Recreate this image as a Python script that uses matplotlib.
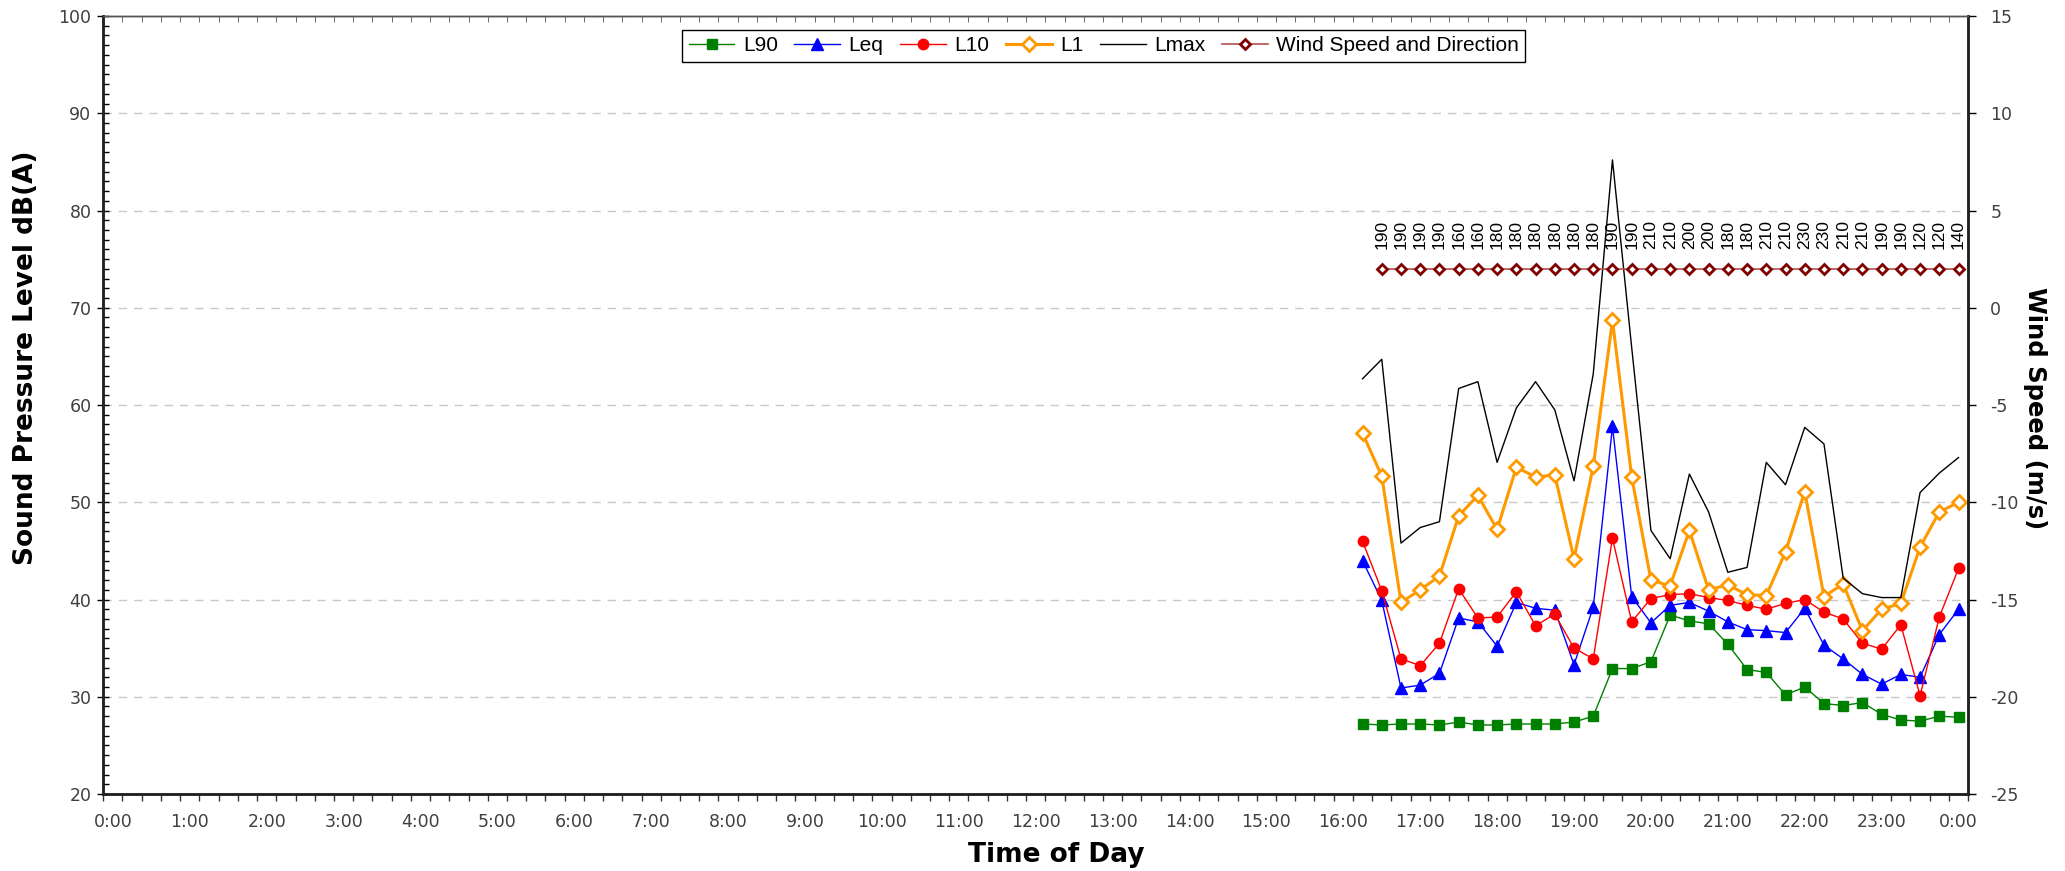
import matplotlib
matplotlib.use('Agg')
import matplotlib.pyplot as plt
from matplotlib.ticker import MultipleLocator, FixedLocator, NullFormatter

### Data
# 15 minute intervals (end time of each interval)
times = ['16:15', '16:30', '16:45', '17:00', '17:15', '17:30', '17:45', '18:00',
         '18:15', '18:30', '18:45', '19:00', '19:15', '19:30', '19:45', '20:00',
         '20:15', '20:30', '20:45', '21:00', '21:15', '21:30', '21:45', '22:00',
         '22:15', '22:30', '22:45', '23:00', '23:15', '23:30', '23:45', '24:00']

L90 = [27.2, 27.1, 27.2, 27.2, 27.1, 27.4, 27.1, 27.1, 27.2, 27.2, 27.2, 27.4, 28.0, 32.9, 32.9, 33.6,
       38.4, 37.8, 37.5, 35.4, 32.8, 32.5, 30.2, 31.0, 29.3, 29.1, 29.4, 28.2, 27.6, 27.5, 28.0, 27.9]
Leq = [44.0, 39.9, 30.9, 31.2, 32.4, 38.1, 37.7, 35.2, 39.7, 39.1, 38.9, 33.3, 39.2, 57.8, 40.3, 37.6,
       39.4, 39.7, 38.8, 37.7, 36.9, 36.8, 36.6, 39.1, 35.3, 33.9, 32.3, 31.3, 32.3, 32.0, 36.4, 39.0]
L10 = [46.0, 40.9, 33.9, 33.2, 35.5, 41.1, 38.1, 38.2, 40.8, 37.3, 38.5, 35.0, 33.9, 46.3, 37.7, 40.1,
       40.5, 40.6, 40.2, 39.9, 39.4, 39.0, 39.6, 40.0, 38.7, 38.0, 35.5, 34.9, 37.4, 30.1, 38.2, 43.2]
L1 = [57.1, 52.7, 39.7, 41.0, 42.4, 48.6, 50.7, 47.2, 53.6, 52.6, 52.8, 44.2, 53.7, 68.7, 52.6, 42.0,
      41.4, 47.1, 41.0, 41.5, 40.5, 40.4, 44.9, 51.1, 40.3, 41.6, 36.8, 39.0, 39.6, 45.4, 49.0, 50.0]
Lmax = [62.7, 64.7, 45.8, 47.4, 48.0, 61.7, 62.4, 54.1, 59.7, 62.4, 59.5, 52.2, 63.2, 85.2, 65.9, 47.1,
        44.2, 52.9, 49.0, 42.8, 43.3, 54.1, 51.8, 57.7, 56.0, 42.2, 40.6, 40.2, 40.2, 51.0, 53.0, 54.6]

# wind data starts one interval later
wind_times = times[1:]
wind_speed = [2.0] * 31
wind_dir = [190, 190, 190, 190, 160, 160, 180, 180, 180, 180, 180, 180, 190, 190, 210, 210,
            200, 200, 180, 180, 210, 210, 230, 230, 210, 210, 190, 190, 120, 120, 140]

hour_labels = ['%d:00' % (h % 24) for h in range(25)]

### Helpers
# time string -> category slot (one slot per 15 minutes)
def slot(t):
    h, m = t.split(':')
    return int(h) * 4 + int(m) // 15

x = [slot(t) for t in times]
xw = [slot(t) for t in wind_times]

### Graph
plt.rcParams['font.family'] = ['Liberation Sans', 'DejaVu Sans']
plt.rcParams['axes.unicode_minus'] = False
fig = plt.figure(figsize=(20.65, 8.71), dpi=100)
ax = fig.add_axes([0.05, 0.0884, 0.9031, 0.8932])
ax2 = ax.twinx()

tickcol = '#404040'

ax.set_xlim(-0.5, 96.5)
ax.set_ylim(20, 100)
ax2.set_ylim(-25, 15)

ax.yaxis.grid(True, linestyle=(0, (6, 5)), color='#c8c8c8', linewidth=1)
ax.set_axisbelow(True)

# noise series
ax.plot(x, L90, color='#008000', marker='s', markersize=6.5, linewidth=1, label='L90')
ax.plot(x, Leq, color='#0000ff', marker='^', markersize=8, linewidth=1, label='Leq')
ax.plot(x, L10, color='#ff0000', marker='o', markersize=7.5, linewidth=1, label='L10')
ax.plot(x, L1, color='#ff9900', marker='D', markersize=7.5, markerfacecolor='white',
        markeredgewidth=2, linewidth=2.2, label='L1')
ax.plot(x, Lmax, color='black', linewidth=1, label='Lmax')

# wind speed and direction
ax2.plot(xw, wind_speed, color='#b05050', linewidth=1.2, marker='D', markersize=5.5,
         markerfacecolor='white', markeredgecolor='#800000', markeredgewidth=2,
         label='Wind Speed and Direction')
for xi, ws, wd in zip(xw, wind_speed, wind_dir):
    ax2.annotate(str(wd), (xi, ws), xytext=(0, 14), textcoords='offset points',
                 rotation=90, ha='center', va='bottom', fontsize=12.5, color='black')

# x axis - category slots, hour labels in slot centres
ax.xaxis.set_major_locator(FixedLocator([slot('%d:00' % h) for h in range(25)]))
ax.set_xticklabels(hour_labels)
ax.xaxis.set_minor_locator(FixedLocator([i - 0.5 for i in range(98)]))
ax.tick_params(axis='x', which='major', length=0, pad=14, labelsize=12.5, labelcolor=tickcol)
ax.tick_params(axis='x', which='minor', length=5, width=1, direction='out', color='#333333')
for lab in ax.get_xticklabels():
    lab.set_family('DejaVu Sans')

top = ax.secondary_xaxis('top')
top.xaxis.set_major_locator(FixedLocator([]))
top.xaxis.set_minor_locator(FixedLocator([i - 0.5 for i in range(98)]))
top.xaxis.set_minor_formatter(NullFormatter())
top.tick_params(axis='x', which='minor', length=4, direction='in', color='#555555')
top.spines['top'].set_color('#555555')

# left axis
ax.yaxis.set_major_locator(MultipleLocator(10))
ax.yaxis.set_minor_locator(MultipleLocator(1))
ax.tick_params(axis='y', which='major', length=9, width=1, direction='inout',
               labelsize=12.5, labelcolor=tickcol, pad=4)
ax.tick_params(axis='y', which='minor', length=4, width=1, direction='in')
for lab in ax.get_yticklabels():
    lab.set_family('DejaVu Sans')

# right axis
ax2.yaxis.set_major_locator(MultipleLocator(5))
ax2.tick_params(axis='y', which='major', length=6, width=1, direction='out',
                labelsize=12.5, labelcolor=tickcol, pad=10)
for lab in ax2.get_yticklabels():
    lab.set_family('DejaVu Sans')

for a in (ax, ax2):
    for s in ('left', 'right', 'bottom'):
        a.spines[s].set_linewidth(1.8)
        a.spines[s].set_color('#222222')
    a.spines['top'].set_linewidth(1)
    a.spines['top'].set_color('#555555')

# axis titles
title_font = dict(family='DejaVu Sans', fontweight='bold')
fig.text(0.0125, 1 - 358 / 871, 'Sound Pressure Level dB(A)', rotation=90, ha='center',
         va='center', fontsize=19, **title_font)
fig.text(0.5115, 1 - 855 / 871, 'Time of Day', ha='center', va='center', fontsize=19,
         **title_font)
fig.text(0.9855, 1 - 408 / 871, 'Wind Speed (m/s)', rotation=270, ha='center',
         va='center', fontsize=17.5, **title_font)

# legend
h1, l1 = ax.get_legend_handles_labels()
h2, l2 = ax2.get_legend_handles_labels()
leg = ax2.legend(h1 + h2, l1 + l2, loc='upper center', bbox_to_anchor=(0.5366, 0.982),
                 ncol=6, fontsize=15, frameon=True, fancybox=False, framealpha=1,
                 edgecolor='black', borderpad=0.3, borderaxespad=0, handlelength=2.2,
                 handletextpad=0.4, columnspacing=0.8)
leg.get_frame().set_linewidth(1)

fig.savefig('out.png', dpi=100)
